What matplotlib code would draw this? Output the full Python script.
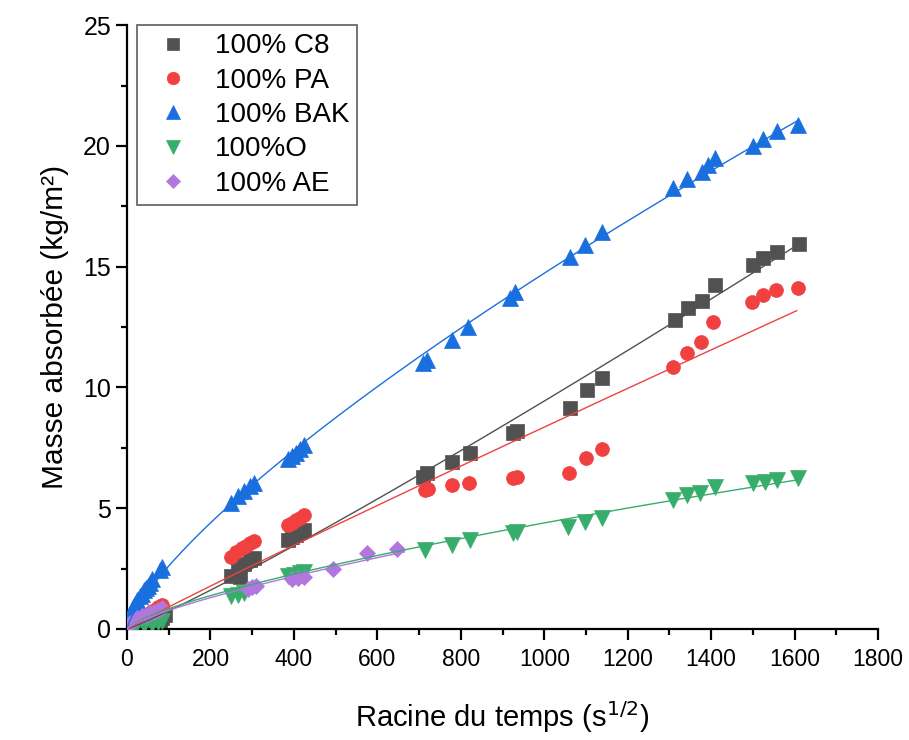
import numpy as np
import matplotlib
matplotlib.use('Agg')
import matplotlib.pyplot as plt
from matplotlib.ticker import MultipleLocator

plt.rcParams['font.family'] = ['Liberation Sans', 'DejaVu Sans']

# data (x = racine du temps, y = masse absorbee)
c8_x = [5, 20, 40, 60, 80, 85, 90, 250, 265, 271, 280, 295, 305, 385, 395, 405, 415, 425,
        710, 718, 778, 822, 926, 935, 1062, 1102, 1139, 1313, 1345, 1377, 1409, 1501, 1525, 1557, 1611]
c8_y = [0.05, 0.1, 0.15, 0.2, 0.3, 0.45, 0.6, 2.2, 2.5, 2.15, 2.7, 2.85, 2.95, 3.7, 3.8, 3.9, 4.0, 4.1,
        6.3, 6.44, 6.93, 7.27, 8.1, 8.2, 9.13, 9.89, 10.38, 12.79, 13.27, 13.6, 14.24, 15.07, 15.34, 15.6, 15.94]

pa_x = [5, 20, 40, 60, 75, 85, 250, 262, 275, 285, 295, 305, 385, 395, 405, 415, 425,
        714, 722, 778, 820, 926, 935, 1060, 1100, 1138, 1309, 1341, 1376, 1405, 1497, 1525, 1556, 1609]
pa_y = [0.2, 0.4, 0.6, 0.75, 0.9, 1.0, 3.0, 3.2, 3.35, 3.45, 3.55, 3.65, 4.3, 4.4, 4.5, 4.6, 4.7,
        5.75, 5.8, 5.96, 6.06, 6.24, 6.3, 6.47, 7.06, 7.44, 10.86, 11.41, 11.89, 12.72, 13.55, 13.82, 14.03, 14.1]

bak_x = [2, 5, 10, 15, 20, 25, 30, 35, 40, 45, 50, 55, 60, 80, 85, 250, 265, 280, 295, 305,
         385, 395, 405, 415, 425, 710, 718, 778, 818, 918, 930, 1062, 1098, 1138,
         1309, 1341, 1377, 1393, 1409, 1501, 1525, 1557, 1609]
bak_y = [0.3, 0.5, 0.7, 0.9, 1.05, 1.2, 1.35, 1.45, 1.6, 1.7, 1.8, 1.9, 2.05, 2.45, 2.55, 5.2, 5.5, 5.7, 5.9, 6.05,
         7.05, 7.15, 7.3, 7.45, 7.6, 11.0, 11.15, 11.96, 12.5, 13.7, 13.95, 15.41, 15.9, 16.44,
         18.24, 18.65, 18.93, 19.2, 19.48, 20.0, 20.3, 20.6, 20.86]

o_x = [5, 20, 40, 60, 75, 85, 250, 265, 280, 385, 400, 415, 425, 714, 778, 822, 926, 935,
       1058, 1098, 1138, 1309, 1341, 1373, 1409, 1501, 1529, 1557, 1609]
o_y = [0.05, 0.1, 0.15, 0.2, 0.3, 0.35, 1.35, 1.4, 1.5, 2.2, 2.25, 2.3, 2.35, 3.27, 3.48, 3.68, 3.96, 4.0,
       4.23, 4.44, 4.58, 5.34, 5.55, 5.62, 5.89, 6.03, 6.1, 6.17, 6.24]

ae_x = [5, 15, 25, 35, 45, 55, 65, 75, 85, 290, 300, 310, 395, 410, 425, 494, 574, 648]
ae_y = [0.2, 0.35, 0.45, 0.55, 0.6, 0.65, 0.7, 0.8, 0.85, 1.65, 1.75, 1.8, 2.05, 2.1, 2.15, 2.5, 3.13, 3.3]

# fits y = a * x^b (parameters)
fit_a = [0.00473, 0.01087, 0.0817, 0.03068, 0.02437]
fit_b = [1.10, 0.962, 0.752, 0.7186, 0.75]
fit_end = [1611, 1605, 1609, 1609, 665]

labels = ['100% C8', '100% PA', '100% BAK', '100%O', '100% AE']
colors = ['#515151', '#F14040', '#1A6FDF', '#37AD6B', '#B177DE']
markers = ['s', 'o', '^', 'v', 'D']
sizes = [9.5, 10, 11.5, 11.5, 8]

xs = [c8_x, pa_x, bak_x, o_x, ae_x]
ys = [c8_y, pa_y, bak_y, o_y, ae_y]

fig = plt.figure(figsize=(9.09, 7.4), dpi=100)
ax = fig.add_axes([0.1397, 0.15, 0.8263, 0.816])

for i in range(5):
    ax.plot(xs[i], ys[i], linestyle='none', marker=markers[i], ms=sizes[i],
            color=colors[i], mec=colors[i], mew=0.5, label=labels[i], zorder=2 + i)

for i in range(5):
    xf = np.linspace(0, fit_end[i], 300)
    ax.plot(xf, fit_a[i] * xf ** fit_b[i], color=colors[i], lw=1, zorder=8)

ax.set_xlim(0, 1800)
ax.set_ylim(0, 25)
ax.xaxis.set_major_locator(MultipleLocator(200))
ax.xaxis.set_minor_locator(MultipleLocator(100))
ax.yaxis.set_major_locator(MultipleLocator(5))
ax.yaxis.set_minor_locator(MultipleLocator(2.5))

ax.spines['top'].set_visible(False)
ax.spines['right'].set_visible(False)
ax.spines['left'].set_linewidth(1.6)
ax.spines['bottom'].set_linewidth(1.6)
ax.tick_params(which='major', direction='out', length=8, width=1.6)
ax.tick_params(which='minor', direction='out', length=4, width=1.6)
ax.tick_params(axis='x', labelsize=16.5, pad=6)
ax.tick_params(axis='y', labelsize=18)

ax.set_xlabel('Racine du temps (s$^{1/2}$)', fontsize=21, labelpad=20)
ax.set_ylabel('Masse absorbée (kg/m²)', fontsize=21.5, labelpad=10)

leg = ax.legend(loc='upper left', bbox_to_anchor=(0.013, 1.0), borderaxespad=0,
                fontsize=20, frameon=True, fancybox=False, edgecolor='#333333',
                handlelength=2.0, handletextpad=0.5, labelspacing=0.3,
                borderpad=0.3, markerscale=0.9)
leg.get_frame().set_linewidth(1.2)

fig.savefig('out.png', dpi=100)
